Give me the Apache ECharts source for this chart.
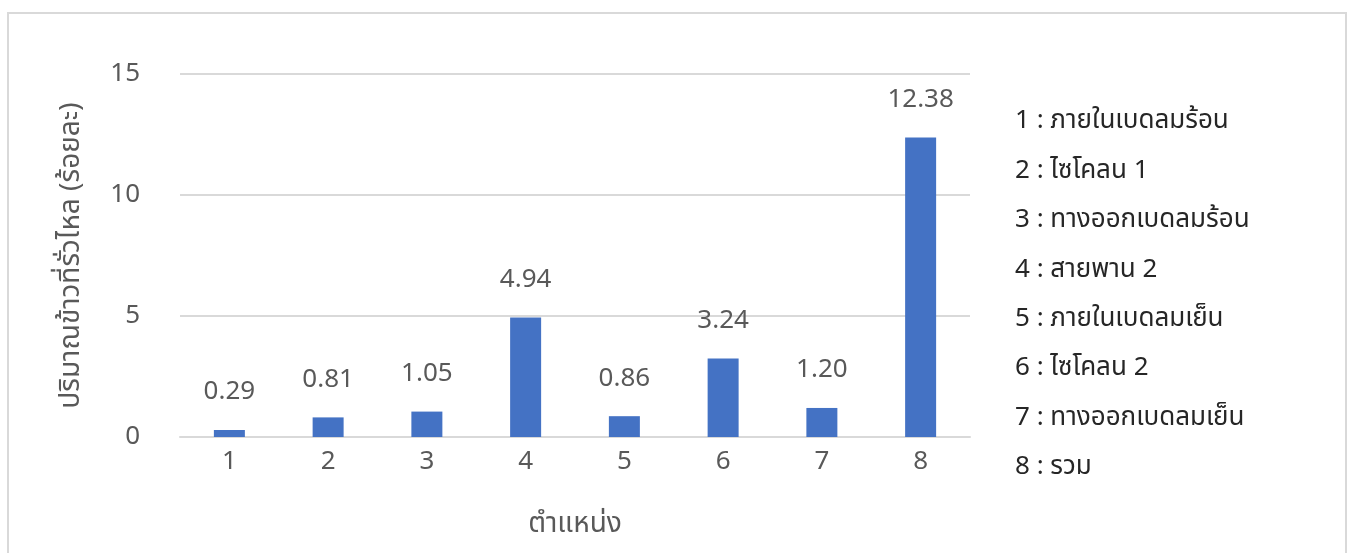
<!DOCTYPE html>
<html>
<head>
<meta charset="utf-8">
<script src="https://cdn.jsdelivr.net/npm/echarts@6/dist/echarts.min.js"></script>
<style>
  html, body { margin: 0; padding: 0; background: #ffffff; }
  #chart { width: 1352px; height: 553px; }
</style>
</head>
<body>
<div id="chart"></div>
<script>
// Positions along the line (x axis categories)
const categories = ['1', '2', '3', '4', '5', '6', '7', '8'];
// Rice loss at each position, percent
const lossValues = [0.29, 0.81, 1.05, 4.94, 0.86, 3.24, 1.20, 12.38];
// Y axis ticks
const yTicks = [0, 5, 10, 15];
// Key describing each position number
const positionNames = [
  '1 : ภายในเบดลมร้อน',
  '2 : ไซโคลน 1',
  '3 : ทางออกเบดลมร้อน',
  '4 : สายพาน 2',
  '5 : ภายในเบดลมเย็น',
  '6 : ไซโคลน 2',
  '7 : ทางออกเบดลมเย็น',
  '8 : รวม'
];

const FONT = '"Noto Sans", "Noto Sans Thai", "DejaVu Sans", sans-serif';
const chart = echarts.init(document.getElementById('chart'), null, { renderer: 'canvas' });

const keyItems = positionNames.map((t, i) => ({
  type: 'text',
  left: 1015,
  top: 108 + i * 49.4,
  style: { text: t, fill: '#262626', font: '26px ' + FONT }
}));

chart.setOption({
  backgroundColor: '#ffffff',
  animation: false,
  grid: { left: 180, right: 382, top: 74, bottom: 116, containLabel: false },
  xAxis: {
    type: 'category',
    data: categories,
    name: 'ตำแหน่ง',
    nameLocation: 'middle',
    nameGap: 73,
    nameTextStyle: { color: '#595959', fontSize: 28, fontFamily: FONT },
    axisLine: { show: true, lineStyle: { color: '#d9d9d9', width: 2 } },
    axisTick: { show: false },
    axisLabel: { color: '#595959', fontSize: 26, fontFamily: FONT, margin: 12 }
  },
  yAxis: {
    type: 'value',
    min: yTicks[0],
    max: yTicks[yTicks.length - 1],
    interval: yTicks[1] - yTicks[0],
    name: 'ปริมาณข้าวที่รั่วไหล (ร้อยละ)',
    nameLocation: 'middle',
    nameGap: 95,
    nameRotate: 90,
    nameTextStyle: { color: '#595959', fontSize: 28, fontFamily: FONT },
    axisLine: { show: false },
    axisTick: { show: false },
    axisLabel: { color: '#595959', fontSize: 26, fontFamily: FONT, margin: 40 },
    splitLine: { show: true, lineStyle: { color: '#d9d9d9', width: 2 } }
  },
  series: [{
    type: 'bar',
    data: lossValues,
    barWidth: 31,
    itemStyle: { color: '#4472c4' },
    label: {
      show: true,
      position: 'top',
      distance: 25,
      color: '#595959',
      fontSize: 26,
      fontFamily: FONT,
      formatter: p => p.value.toFixed(2)
    }
  }],
  graphic: [
    {
      type: 'rect',
      shape: { x: 8, y: 13, width: 1338, height: 600 },
      style: { fill: 'none', stroke: '#d9d9d9', lineWidth: 2 },
      silent: true
    },
    ...keyItems
  ]
});
</script>
</body>
</html>
